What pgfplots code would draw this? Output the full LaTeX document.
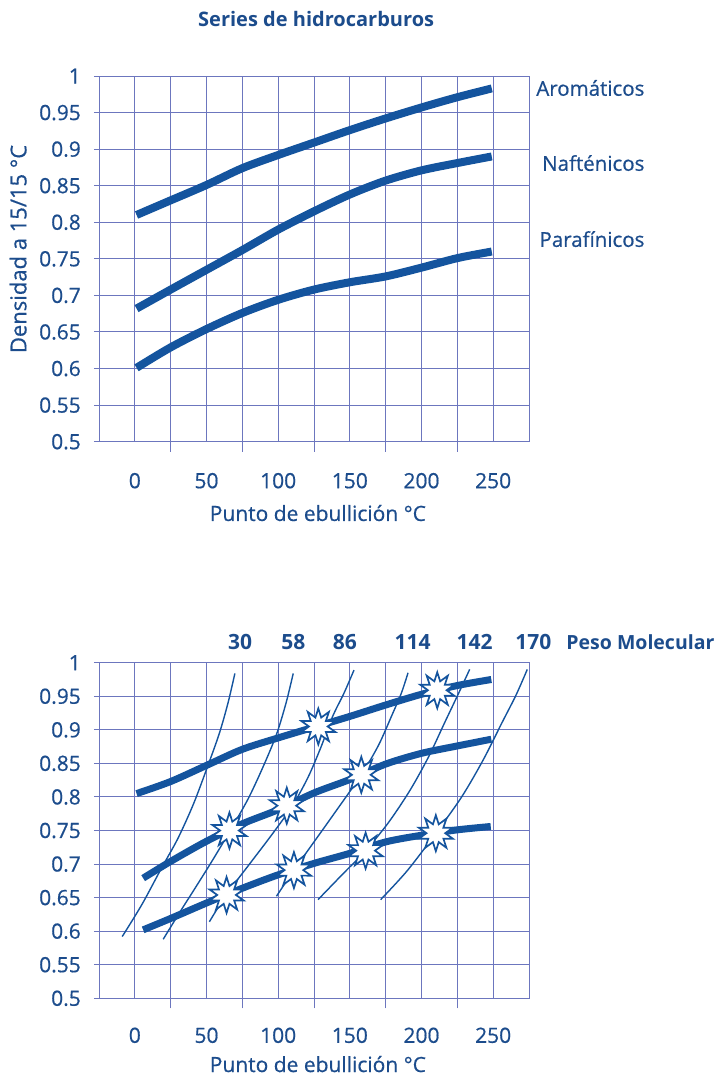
\documentclass[border=0pt]{standalone}
\usepackage{pgfplots}
\pgfplotsset{compat=1.18}
\usepackage{fontspec}
\setmainfont{Open Sans}
\newfontfamily\medfont{Open Sans}[FakeBold=0.6]
\definecolor{txt}{RGB}{28,76,140}
\definecolor{lin}{RGB}{20,84,158}
\definecolor{gridc}{RGB}{108,118,190}

\pgfdeclareplotmark{burst}{%
  \pgfpathmoveto{\pgfpointpolar{90}{\pgfplotmarksize}}%
  \pgfpathlineto{\pgfpointpolar{108}{0.52\pgfplotmarksize}}%
  \pgfpathlineto{\pgfpointpolar{126}{\pgfplotmarksize}}%
  \pgfpathlineto{\pgfpointpolar{144}{0.52\pgfplotmarksize}}%
  \pgfpathlineto{\pgfpointpolar{162}{\pgfplotmarksize}}%
  \pgfpathlineto{\pgfpointpolar{180}{0.52\pgfplotmarksize}}%
  \pgfpathlineto{\pgfpointpolar{198}{\pgfplotmarksize}}%
  \pgfpathlineto{\pgfpointpolar{216}{0.52\pgfplotmarksize}}%
  \pgfpathlineto{\pgfpointpolar{234}{\pgfplotmarksize}}%
  \pgfpathlineto{\pgfpointpolar{252}{0.52\pgfplotmarksize}}%
  \pgfpathlineto{\pgfpointpolar{270}{\pgfplotmarksize}}%
  \pgfpathlineto{\pgfpointpolar{288}{0.52\pgfplotmarksize}}%
  \pgfpathlineto{\pgfpointpolar{306}{\pgfplotmarksize}}%
  \pgfpathlineto{\pgfpointpolar{324}{0.52\pgfplotmarksize}}%
  \pgfpathlineto{\pgfpointpolar{342}{\pgfplotmarksize}}%
  \pgfpathlineto{\pgfpointpolar{0}{0.52\pgfplotmarksize}}%
  \pgfpathlineto{\pgfpointpolar{18}{\pgfplotmarksize}}%
  \pgfpathlineto{\pgfpointpolar{36}{0.52\pgfplotmarksize}}%
  \pgfpathlineto{\pgfpointpolar{54}{\pgfplotmarksize}}%
  \pgfpathlineto{\pgfpointpolar{72}{0.52\pgfplotmarksize}}%
  \pgfpathclose
  \pgfusepathqfillstroke
}

\pgfplotsset{
  chart/.style={
    scale only axis, width=430bp,
    xmin=-25, xmax=275, ymin=0.5, ymax=1,
    clip=false,
    xtick={-25,0,25,50,75,100,125,150,175,200,225,250,275},
    xticklabels={,0,,50,,100,,150,,200,,250,},
    ytick={0.5,0.55,0.6,0.65,0.7,0.75,0.8,0.85,0.9,0.95,1},
    yticklabels={0.5,0.55,0.6,0.65,0.7,0.75,0.8,0.85,0.9,0.95,1},
    grid=major,
    major grid style={draw=gridc, line width=1bp},
    axis line style={draw=gridc, line width=1bp},
    xtick pos=bottom, ytick pos=left,
    tick align=outside,
    xtick style={draw=none},
    ytick style={draw=gridc, line width=1bp},
    major tick length=5bp,
    extra x ticks={25,75,125,175,225},
    extra x tick labels={},
    extra x tick style={grid=none, major tick length=10bp, xtick style={draw=gridc, line width=1bp}},
    tick label style={font=\fontsize{21bp}{25bp}\medfont, text=txt, inner sep=0pt},
    yticklabel style={anchor=east, xshift=-13bp},
    label style={font=\fontsize{21bp}{25bp}\medfont, text=txt},
  },
}

\begin{document}
\begin{tikzpicture}
\useasboundingbox (0,0) rectangle (722bp,-1077bp);

% ---------------- top chart ----------------
\begin{axis}[chart,
  at={(99bp,-441.7bp)}, anchor=south west,
  height=365.7bp,
  xticklabel style={anchor=center, yshift=-34bp},
  title={Series de hidrocarburos},
  title style={at={(axis description cs:0.505,1.1395)}, anchor=center,
    font=\fontsize{20bp}{24bp}\selectfont\bfseries, text=txt},
  xlabel={Punto de ebullición °C},
  xlabel style={at={(axis description cs:0.509,-0.195)}, anchor=center},
  ylabel={Densidad a 15/15 °C},
  ylabel style={at={(axis description cs:-0.188,0.527)}, anchor=center, font=\fontsize{22bp}{25bp}\medfont},
]
\addplot[lin, line width=8bp, smooth] coordinates {
(1.2,0.810) (25,0.830) (50,0.851) (75,0.874) (100,0.892) (125,0.909)
(150,0.926) (175,0.942) (200,0.957) (225,0.971) (249,0.983)};
\addplot[lin, line width=8bp, smooth] coordinates {
(1.2,0.682) (25,0.708) (50,0.735) (75,0.762) (100,0.790) (125,0.815)
(150,0.838) (175,0.857) (200,0.871) (225,0.881) (249,0.890)};
\addplot[lin, line width=8bp, smooth] coordinates {
(1.2,0.601) (25,0.629) (50,0.654) (75,0.676) (100,0.694) (125,0.708)
(150,0.718) (175,0.726) (200,0.738) (225,0.751) (249,0.760)};
\node[anchor=east, text=txt, font=\fontsize{20.5bp}{24bp}\medfont] at (axis cs:358,0.9836) {Aromáticos};
\node[anchor=east, text=txt, font=\fontsize{20.5bp}{24bp}\medfont] at (axis cs:358,0.881) {Nafténicos};
\node[anchor=east, text=txt, font=\fontsize{20.5bp}{24bp}\medfont] at (axis cs:358,0.777) {Parafínicos};
\end{axis}

% ---------------- bottom chart ----------------
\begin{axis}[chart,
  at={(99bp,-998.3bp)}, anchor=south west,
  height=335.6bp,
  xticklabel style={anchor=center, yshift=-32bp},
  xlabel={Punto de ebullición °C},
  xlabel style={at={(axis description cs:0.509,-0.196)}, anchor=center},
]
% molecular weight curves
\addplot[lin, line width=1.4bp, smooth] coordinates {
(-8.8,0.592) (5,0.640) (18.6,0.694) (30,0.738) (41,0.790) (51.2,0.848) (59,0.895) (65,0.940) (69.8,0.984)};
\addplot[lin, line width=1.4bp, smooth] coordinates {
(19.8,0.588) (31,0.627) (42,0.664) (54,0.705) (66,0.748) (79,0.797) (89.5,0.845) (98.8,0.893) (105.5,0.940) (110.5,0.984)};
\addplot[lin, line width=1.4bp, smooth] coordinates {
(52,0.614) (64,0.655) (80,0.700) (96,0.745) (110,0.787) (121,0.830) (130,0.875) (138,0.920) (146,0.955) (152.9,0.989)};
\addplot[lin, line width=1.4bp, smooth] coordinates {
(98.8,0.652) (111,0.691) (125,0.733) (140,0.778) (158,0.833) (170,0.877) (179,0.920) (186,0.955) (190.6,0.985)};
\addplot[lin, line width=1.4bp, smooth] coordinates {
(127.8,0.647) (145,0.685) (161,0.720) (177,0.762) (192,0.810) (205,0.860) (216,0.910) (226,0.955) (233.6,0.990)};
\addplot[lin, line width=1.4bp, smooth] coordinates {
(171.5,0.647) (190,0.690) (210,0.746) (228,0.800) (243,0.855) (256,0.910) (266,0.952) (273.8,0.990)};
% series curves
\addplot[lin, line width=7bp, smooth] coordinates {
(1.2,0.805) (25,0.823) (51,0.848) (75,0.871) (100,0.888) (125,0.904)
(150,0.920) (175,0.937) (200,0.953) (225,0.966) (248.7,0.975)};
\addplot[lin, line width=7bp, smooth] coordinates {
(5.8,0.679) (25,0.704) (50,0.734) (75,0.760) (100,0.781) (125,0.806)
(150,0.826) (175,0.849) (200,0.865) (225,0.876) (248.7,0.886)};
\addplot[lin, line width=7bp, smooth] coordinates {
(5.8,0.602) (25,0.619) (50,0.642) (75,0.664) (100,0.684) (125,0.701)
(150,0.716) (175,0.733) (200,0.743) (225,0.751) (248.3,0.756)};
% intersection stars
\addplot[only marks, mark=burst, mark size=18bp,
  mark options={fill=white, draw=lin, line width=1.7bp, line join=miter}] coordinates {
(128,0.905) (211,0.959)
(66,0.750) (106,0.787) (158,0.833)
(64,0.654) (111,0.691) (161,0.720) (210,0.746)};
\node[text=txt, font=\fontsize{21bp}{25bp}\selectfont\bfseries] at (axis cs:73.4,1.0313) {30};
\node[text=txt, font=\fontsize{21bp}{25bp}\selectfont\bfseries] at (axis cs:110.6,1.0313) {58};
\node[text=txt, font=\fontsize{21bp}{25bp}\selectfont\bfseries] at (axis cs:146.6,1.0313) {86};
\node[text=txt, font=\fontsize{21bp}{25bp}\selectfont\bfseries] at (axis cs:193.8,1.0313) {114};
\node[text=txt, font=\fontsize{21bp}{25bp}\selectfont\bfseries] at (axis cs:237.1,1.0313) {142};
\node[text=txt, font=\fontsize{21bp}{25bp}\selectfont\bfseries] at (axis cs:278,1.0313) {170};
\node[anchor=west, inner sep=0pt, text=txt, font=\fontsize{19.5bp}{24bp}\selectfont\bfseries] at (axis cs:301,1.0313) {Peso Molecular};
\end{axis}
\end{tikzpicture}
\end{document}
